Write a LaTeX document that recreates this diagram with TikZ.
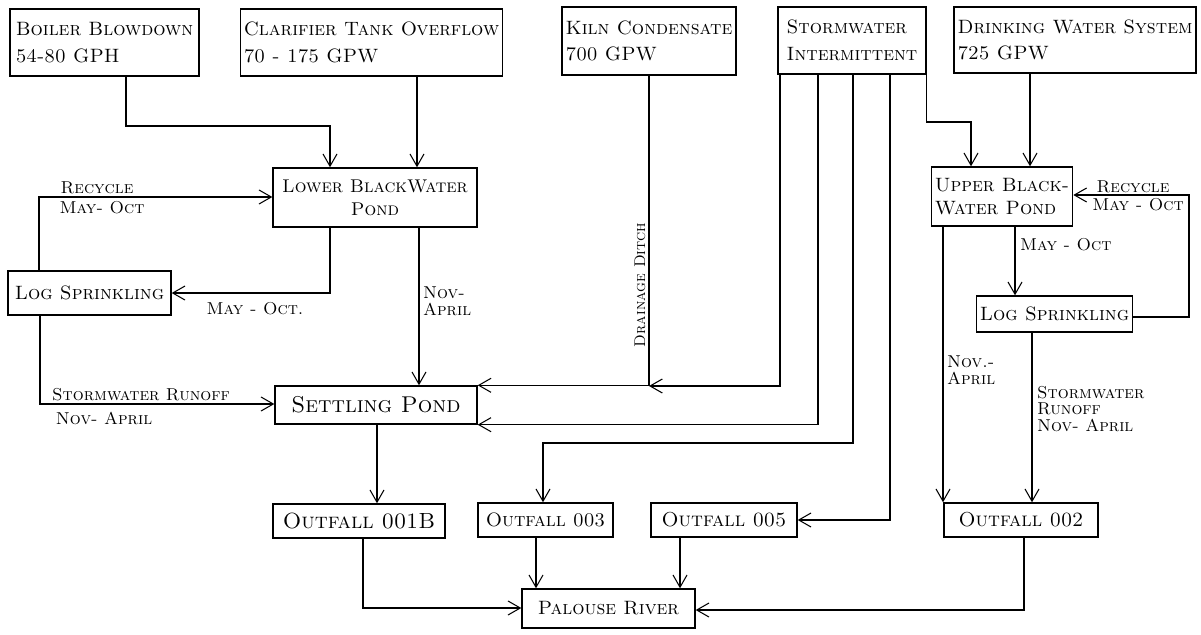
\documentclass[tikz,border=0pt]{standalone}
\usepackage{tikz}
\usetikzlibrary{arrows.meta,positioning}

\tikzset{
  box/.style={draw, thick, font=\fontsize{11}{13}\selectfont\scshape, inner sep=2pt},
  bigbox/.style={box, font=\fontsize{12.5}{14}\selectfont\scshape},
  topbox/.style={box, align=left, font=\fontsize{11}{15}\selectfont\scshape},
  note/.style={font=\fontsize{9.8}{9.5}\selectfont\scshape, inner sep=1pt},
  flow/.style={semithick, -{Straight Barb[length=7pt,width=8pt]}}
}

\begin{document}
\begin{tikzpicture}[x=0.02cm, y=-0.02cm]
\useasboundingbox (0,0) rectangle (1201,635);
% sources
\node[topbox, minimum width=3.78cm, minimum height=1.34cm] (boiler) at (104.5,42.5) {Boiler Blowdown\\54-80 GPH};
\node[topbox, minimum width=5.22cm, minimum height=1.34cm] (clar) at (371.5,42.5) {Clarifier Tank Overflow\\70 - 175 GPW};
\node[topbox, minimum width=3.48cm, minimum height=1.36cm] (kiln) at (649,41) {Kiln Condensate\\700 GPW};
\node[topbox, minimum width=2.96cm, minimum height=1.34cm] (storm) at (852,40.5) {Stormwater\\Intermittent};
\node[topbox, minimum width=4.8cm, minimum height=1.32cm] (drink) at (1075,40) {Drinking Water System\\725 GPW};
% ponds
\node[box, align=center, minimum width=4.08cm, minimum height=1.18cm, font=\fontsize{10.5}{13}\selectfont\scshape] (lbw) at (375,197.5) {Lower BlackWater\\Pond};
\node[box, minimum width=3.26cm, minimum height=0.88cm] (lsl) at (89.5,293) {Log Sprinkling};
\node[bigbox, minimum width=4.04cm, minimum height=0.76cm, font=\fontsize{13}{14}\selectfont\scshape] (settle) at (376,405) {Settling Pond};
\node[box, align=left, minimum width=2.56cm, minimum height=1.18cm] (ubw) at (1002,196.5) {Upper Black-\\Water Pond};
\node[box, minimum width=3.1cm, minimum height=0.72cm] (lsr) at (1054.5,314) {Log Sprinkling};
% outfalls
\node[bigbox, minimum width=3.44cm, minimum height=0.68cm] (o1) at (359,521) {Outfall 001B};
\node[box, minimum width=2.7cm, minimum height=0.68cm] (o3) at (545.5,520) {Outfall 003};
\node[box, minimum width=2.92cm, minimum height=0.68cm, font=\fontsize{11.5}{13}\selectfont\scshape] (o5) at (724,520) {Outfall 005};
\node[box, minimum width=3.08cm, minimum height=0.68cm, font=\fontsize{11.5}{13}\selectfont\scshape] (o2) at (1021,520) {Outfall 002};
\node[box, minimum width=3.46cm, minimum height=0.78cm] (river) at (608.5,608.5) {Palouse River};
\coordinate (ditch) at (649,386);

% left side
\draw[flow] (boiler.south -| 126,0) |- (330,126) -- (lbw.north -| 330,0);
\draw[flow] (clar.south -| 417,0) -- (lbw.north -| 417,0);
\draw[flow] (lsl.north -| 39,0) |- (lbw.west |- 0,197);
\draw[flow] (lbw.south -| 330,0) |- (lsl.east);
\draw[flow] (lbw.south -| 419,0) -- (settle.north -| 419,0);
\draw[flow] (lsl.south -| 40,0) |- (settle.west |- 0,404);
\draw[flow] (settle.south -| 377,0) -- (o1.north -| 377,0);
% stormwater
\draw[flow] (kiln.south) |- (settle.north east);
\draw[flow] (storm.south -| 780,0) |- (ditch);
\draw[flow] (storm.south -| 818,0) |- (settle.south east);
\draw[flow] (storm.south -| 853,0) |- (543,443) -- (o3.north -| 543,0);
\draw[flow] (storm.south -| 890,0) |- (o5.east);
\draw[flow] (storm.south east) |- (971,122) -- (ubw.north -| 971,0);
% right side
\draw[flow] (drink.south -| 1030,0) -- (ubw.north -| 1030,0);
\draw[flow] (lsr.east |- 0,317) -| (1189,195) -- (ubw.east |- 0,195);
\draw[flow] (ubw.south -| 1015,0) -- (lsr.north -| 1015,0);
\draw[flow] (ubw.south -| 943,0) -- (o2.north -| 943,0);
\draw[flow] (lsr.south -| 1032,0) -- (o2.north -| 1032,0);
% river
\draw[flow] (o1.south -| 363,0) |- (river.west |- 0,608);
\draw[flow] (o3.south -| 536,0) -- (river.north -| 536,0);
\draw[flow] (o5.south -| 680,0) -- (river.north -| 680,0);
\draw[flow] (o2.south -| 1024,0) |- (river.east |- 0,610);

% labels
\node[note] (l1) at (97,188) {Recycle};
\node[note] (l2) at (102,208) {May- Oct};
\node[note] (l3) at (255,309) {May - Oct.};
\node[note, align=left, anchor=west] (l4) at (421,301) {Nov-\\April};
\node[note] (l5) at (141,395) {Stormwater Runoff};
\node[note] (l6) at (104,418) {Nov- April};
\node[note, rotate=90, font=\fontsize{8.8}{9}\selectfont\scshape] (l7) at (640,285) {Drainage Ditch};
\node[note] (l8) at (1133,187) {Recycle};
\node[note] (l9) at (1138,205) {May - Oct};
\node[note, anchor=west] (l10) at (1018,245) {May - Oct};
\node[note, align=left, anchor=west] (l11) at (945,370) {Nov.-\\April};
\node[note, align=left, anchor=north west] (l12) at (1035,384) {Stormwater\\Runoff\\Nov- April};
\end{tikzpicture}
\end{document}
